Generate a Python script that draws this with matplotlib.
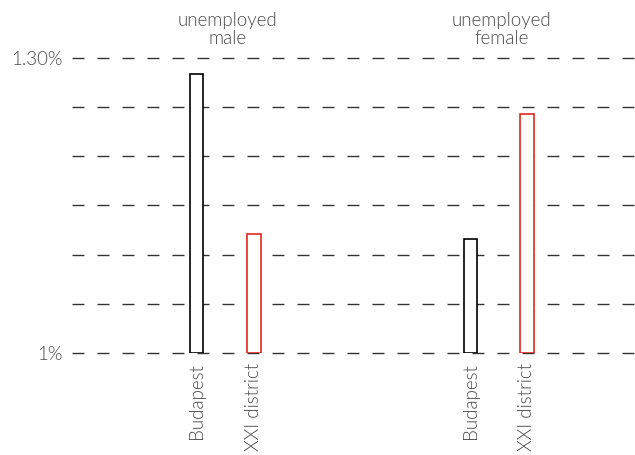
import numpy as np
from matplotlib import pyplot as plt

# data
groups = ['unemployed\nmale', 'unemployed\nfemale']
places = ['Budapest', 'XXI district', 'Budapest', 'XXI district']
values = [1.284, 1.121, 1.116, 1.243]
edge_cols = ['black', '#e8261c', 'black', '#e8261c']

plt.rcParams['font.family'] = ['Lato', 'DejaVu Sans']
plt.rcParams['font.weight'] = 300

W, H = 635, 455
fig = plt.figure(figsize=(W/100, H/100), dpi=100)
# axes box: x from 72 px to right edge, y from 1.30 (58px) down to 1.00 (353px)
ax = fig.add_axes([72/W, 1-353/H, (W-72)/W, (353-58)/H])

pos = np.array([0, 1, 4.77, 5.75])
ax.bar(pos, np.array(values) - 1.0, bottom=1.0, width=0.23,
       facecolor='white', edgecolor=edge_cols, linewidth=1.2, zorder=3)

ax.set_xlim(-2.165, 7.63)
ax.set_ylim(1.0, 1.30)

for yv in np.arange(1.0, 1.30001, 0.05):
    ax.axhline(yv, color='#333333', lw=1, dashes=(8.6, 9.4), zorder=1, clip_on=False)

ax.set_yticks([1.0, 1.30])
ax.set_yticklabels(['1%', '1.30%'])
ax.set_xticks(pos)
ax.set_xticklabels(places, rotation=90)
ax.tick_params(length=0, labelsize=13.5, labelcolor='#4a4a4a')
ax.tick_params(axis='y', pad=7)
ax.tick_params(axis='x', pad=7)
for s in ax.spines.values():
    s.set_visible(False)

for i, g in enumerate(groups):
    xc = (pos[2*i] + pos[2*i+1]) / 2 + 0.045
    ax.text(xc, 1.3115, g, ha='center', va='bottom', fontsize=13.5,
            color='#4a4a4a', linespacing=1.08)

fig.savefig('out.png', dpi=100)
